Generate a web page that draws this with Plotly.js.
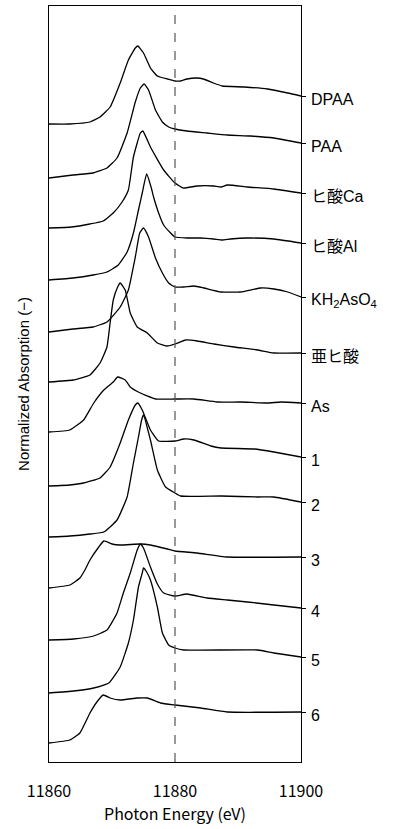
<!DOCTYPE html>
<html><head><meta charset="utf-8">
<script src="https://cdn.plot.ly/plotly-3.0.1.min.js"></script>
<style>body{margin:0;background:#fff}#c{width:395px;height:829px}</style>
</head><body><div id="c"></div>
<script>
// Sample names (top to bottom)
const labels = ["DPAA","PAA","ヒ酸Ca","ヒ酸Al","KH<sub>2</sub>AsO<sub>4</sub>","亜ヒ酸","As","1","2","3","4","5","6"];
const xTicks = [11860, 11880, 11900];
const xTickText = ["11860", "11880", "11900"];
const refEnergy = 11880;

// Photon energy (eV) and normalized absorption (offset stacked) for each spectrum
const e_DPAA = [11860,11863.3,11866.5,11868.1,11869.7,11871.3,11872.6,11873.7,11874.1,11875.0,11876.1,11877.2,11878.8,11880.0,11880.9,11881.9,11883.5,11884.5,11886.1,11887.5,11891.0,11894.7,11897.9,11900];
const a_DPAA = [6.38,6.38,6.40,6.45,6.55,6.79,7.02,7.14,7.16,7.09,6.94,6.86,6.83,6.81,6.81,6.83,6.84,6.83,6.79,6.76,6.75,6.73,6.69,6.66];

const e_PAA = [11860,11863.8,11867.0,11869.2,11870.8,11872.4,11873.7,11874.5,11875.1,11875.8,11876.9,11878.0,11879.0,11880.0,11881.9,11885.1,11888.3,11892.0,11895.7,11900];
const a_PAA = [5.84,5.87,5.89,5.94,6.04,6.29,6.60,6.74,6.78,6.72,6.52,6.40,6.35,6.33,6.31,6.29,6.27,6.26,6.24,6.19];

const e_Ca = [11860,11863.6,11866.5,11868.6,11870.2,11871.6,11872.6,11873.4,11874.5,11874.9,11876.1,11878.2,11880.0,11881.3,11883.5,11886.1,11887.3,11888.3,11891.5,11895.7,11900];
const a_Ca = [5.34,5.35,5.38,5.41,5.49,5.60,5.72,6.05,6.29,6.31,6.15,5.92,5.79,5.74,5.76,5.76,5.75,5.77,5.75,5.73,5.69];

const e_Al = [11860,11863.8,11867.0,11869.2,11871.0,11872.4,11873.4,11874.2,11874.8,11875.5,11876.2,11876.6,11877.4,11878.2,11879.3,11880.0,11881.9,11884.1,11886.1,11887.5,11888.8,11891.5,11895.7,11900];
const a_Al = [4.82,4.84,4.87,4.90,4.97,5.10,5.29,5.52,5.69,5.88,5.75,5.65,5.49,5.37,5.29,5.25,5.24,5.24,5.23,5.22,5.23,5.24,5.23,5.19];

const e_KH2AsO4 = [11860,11863.8,11867.0,11869.2,11871.3,11872.6,11873.7,11874.4,11875.0,11875.8,11876.9,11878.0,11879.0,11880.0,11881.4,11883.0,11884.6,11887.3,11890.4,11893.6,11895.7,11897.9,11900];
const a_KH2AsO4 = [4.30,4.33,4.35,4.40,4.55,4.72,5.05,5.29,5.34,5.25,5.04,4.89,4.79,4.75,4.75,4.76,4.74,4.70,4.70,4.74,4.73,4.70,4.65];

const e_Arsenite = [11860,11863.8,11866.5,11868.1,11869.2,11869.7,11870.2,11870.9,11871.3,11872.1,11872.9,11874.0,11875.6,11877.2,11878.8,11880.0,11881.7,11883.5,11886.2,11889.4,11893.1,11895.7,11900];
const a_Arsenite = [3.80,3.82,3.87,3.99,4.15,4.39,4.62,4.75,4.79,4.72,4.49,4.35,4.29,4.19,4.16,4.18,4.22,4.21,4.18,4.15,4.12,4.09,4.09];

const e_As = [11860,11863.3,11865.5,11867.1,11868.7,11870.2,11870.9,11872.1,11872.9,11874.5,11876.9,11880.0,11883.0,11886.7,11890.4,11894.7,11896.8,11900];
const a_As = [3.30,3.32,3.42,3.59,3.72,3.80,3.85,3.82,3.75,3.69,3.63,3.63,3.63,3.60,3.60,3.59,3.60,3.59];

const e_S1 = [11860,11863.3,11865.5,11868.1,11869.7,11871.3,11872.6,11873.7,11874.1,11874.8,11876.1,11877.4,11880.0,11881.4,11883.0,11885.7,11887.3,11892.6,11895.7,11900];
const a_S1 = [2.76,2.77,2.79,2.84,2.95,3.19,3.42,3.57,3.59,3.52,3.32,3.21,3.21,3.23,3.22,3.16,3.14,3.13,3.10,3.05];

const e_S2 = [11860,11863.3,11866.5,11868.7,11870.8,11872.4,11873.4,11874.2,11874.7,11875.0,11876.1,11877.2,11878.5,11880.0,11880.9,11887.3,11893.1,11895.7,11900];
const a_S2 = [2.25,2.26,2.28,2.30,2.42,2.65,2.99,3.25,3.42,3.47,3.22,2.92,2.75,2.69,2.66,2.66,2.65,2.65,2.60];

const e_S3 = [11860,11863.3,11864.9,11865.7,11866.5,11867.9,11868.7,11870.0,11871.3,11874.5,11876.1,11878.8,11880.0,11883.5,11888.3,11900];
const a_S3 = [1.74,1.77,1.84,1.92,2.02,2.15,2.21,2.18,2.17,2.18,2.17,2.13,2.11,2.09,2.05,2.05];

const e_S4 = [11860,11863.9,11867.1,11869.2,11870.8,11871.8,11872.9,11874.0,11874.5,11875.0,11876.1,11877.2,11878.2,11880.0,11881.9,11885.1,11888.3,11891.5,11895.7,11900];
const a_S4 = [1.22,1.23,1.26,1.32,1.49,1.69,1.89,2.12,2.18,2.14,1.95,1.78,1.69,1.66,1.68,1.64,1.62,1.60,1.57,1.54];

const e_S5 = [11860,11863.9,11867.1,11869.5,11871.3,11872.6,11873.4,11874.2,11874.8,11875.0,11875.5,11876.1,11877.2,11878.0,11879.0,11880.0,11881.4,11893.1,11895.7,11900];
const a_S5 = [0.69,0.71,0.74,0.79,0.95,1.19,1.42,1.75,1.89,1.94,1.90,1.82,1.55,1.29,1.17,1.14,1.12,1.12,1.09,1.05];

const e_S6 = [11860,11863.3,11864.9,11866.5,11867.6,11868.6,11869.7,11871.3,11874.0,11875.6,11877.7,11880.0,11884.1,11888.3,11900];
const a_S6 = [0.19,0.22,0.29,0.49,0.60,0.67,0.64,0.62,0.64,0.64,0.59,0.57,0.54,0.50,0.50];

const energies = [e_DPAA,e_PAA,e_Ca,e_Al,e_KH2AsO4,e_Arsenite,e_As,e_S1,e_S2,e_S3,e_S4,e_S5,e_S6];
const absorb = [a_DPAA,a_PAA,a_Ca,a_Al,a_KH2AsO4,a_Arsenite,a_As,a_S1,a_S2,a_S3,a_S4,a_S5,a_S6];

const yRange = [0, 7.56];
const endVals = absorb.map(a => a[a.length-1]);

const traces = energies.map((e,i) => ({
  x: e, y: absorb[i], type: 'scatter', mode: 'lines',
  line: {color: '#000', width: 1.3, shape: 'spline', smoothing: 0.4}, hoverinfo: 'skip', showlegend: false
}));
// invisible trace to activate right axis
traces.push({x:[11860], y:[0], yaxis:'y2', mode:'markers', marker:{opacity:0}, showlegend:false, hoverinfo:'skip'});

const annotations = labels.map((t,i) => ({
  xref: 'paper', yref: 'y', x: 1, y: endVals[i], xanchor: 'left', yanchor: 'middle',
  xshift: 8, yshift: -3, text: t, showarrow: false,
  font: {family: '"Liberation Sans", "Noto Sans CJK JP", sans-serif', size: 16, color: '#000'}
}));

const layout = {
  width: 395, height: 829,
  margin: {l: 49, r: 94, t: 6, b: 67},
  paper_bgcolor: '#fff', plot_bgcolor: '#fff',
  font: {family: '"Noto Sans CJK JP", "Noto Sans", sans-serif', color: '#000'},
  xaxis: {
    range: [11860, 11900], tickvals: xTicks, ticktext: xTickText, ticks: '', showgrid: false, zeroline: false,
    showline: true, mirror: true, linecolor: '#000', linewidth: 1.3,
    tickfont: {size: 16, family: '"Noto Sans CJK JP", sans-serif'}, ticklabelstandoff: 14,
    title: {text: 'Photon Energy (eV)', font: {size: 16, family: '"Noto Sans CJK JP", sans-serif'}, standoff: 6}
  },
  yaxis: {
    range: yRange, showticklabels: false, ticks: '', showgrid: false, zeroline: false,
    showline: true, mirror: true, linecolor: '#000', linewidth: 1.3,
    title: {text: 'Normalized Absorption (−)', font: {size: 15, family: '"Liberation Sans", Arial, sans-serif'}, standoff: 14}
  },
  yaxis2: {
    range: yRange, overlaying: 'y', side: 'right', tickvals: endVals, ticks: 'outside',
    ticklen: 4, tickcolor: '#000', tickwidth: 1, showticklabels: false,
    showgrid: false, zeroline: false, showline: false
  },
  shapes: [{
    type: 'line', xref: 'x', yref: 'paper', x0: refEnergy, x1: refEnergy, y0: 0, y1: 1,
    line: {color: '#555', width: 1.2, dash: 'dash'}
  }],
  annotations: annotations
};

Plotly.newPlot('c', traces, layout, {staticPlot: true, displayModeBar: false});
</script>
</body></html>
